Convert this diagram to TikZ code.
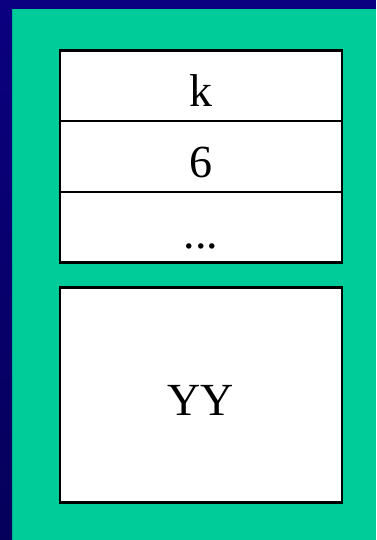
\documentclass[tikz,border=0pt]{standalone}
\usepackage{fontspec}
\setmainfont{Liberation Serif}
\usetikzlibrary{positioning}
\definecolor{slidebg}{RGB}{0,204,153}
\definecolor{slidenavy}{RGB}{10,0,128}
\definecolor{slidenavydark}{RGB}{5,0,90}

\begin{document}
\begin{tikzpicture}[
    x=1pt, y=-1pt,
    cell/.style={draw, line width=2.5pt, fill=white, minimum width=282pt, minimum height=70.5pt,
      inner sep=0pt, outer sep=0pt, text height=42pt, text depth=0pt,
      font=\fontsize{46}{55}\selectfont},
    bigcell/.style={cell, minimum height=215pt}
]
    \useasboundingbox (0,0) rectangle (376,540);
    % slide background
    \fill[slidebg] (0,0) rectangle (376,540);
    \shade[top color=slidenavy, bottom color=slidenavydark] (0,0) rectangle (12,540);
    \fill[slidenavy] (0,0) rectangle (376,9);

    % stack
    \node[cell] (key) at (201,86) {k};
    \node[cell, below=0pt of key] (count) {6};
    \node[cell, below=0pt of count] (more) {...};
    \node[bigcell, below=25pt of more] (data) {YY};
\end{tikzpicture}
\end{document}
